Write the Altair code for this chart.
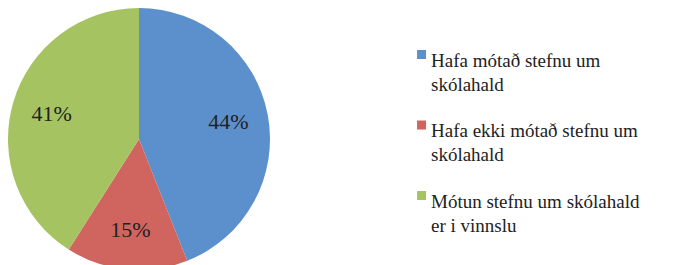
import altair as alt
import pandas as pd

categories = [
    "Hafa mótað stefnu um|skólahald",
    "Hafa ekki mótað stefnu um|skólahald",
    "Mótun stefnu um skólahald|er i vinnslu",
]
values = [44, 15, 41]
labels = ["44%", "15%", "41%"]
colors = ["#5B90CC", "#D0655F", "#A5C461"]

SERIF = "Liberation Serif, Times New Roman, serif"

df = pd.DataFrame({"cat": categories, "val": values, "lab": labels, "order": [0, 1, 2]})

base = alt.Chart(df).encode(
    theta=alt.Theta("val:Q", stack=True),
    order=alt.Order("order:Q"),
)

pie = base.mark_arc(outerRadius=131).encode(
    color=alt.Color(
        "cat:N",
        sort=categories,
        scale=alt.Scale(domain=categories, range=colors),
        legend=alt.Legend(
            title=None,
            orient="none",
            legendX=400,
            legendY=34,
            symbolType="M-0.1,-0.33H1.9V1.67H-0.1Z",
            symbolSize=81,
            symbolStrokeWidth=0,
            labelFont=SERIF,
            labelFontSize=19,
            labelColor="#222222",
            labelLimit=400,
            labelBaseline="top",
            labelOffset=4,
            rowPadding=17.5,
            padding=0,
            labelExpr="split(datum.label, '|')",
        ),
    )
)

text = base.mark_text(
    radius=91,
    font=SERIF,
    fontSize=22,
    color="#222222",
).encode(text="lab:N")

chart = (
    (pie + text)
    .properties(width=262, height=262, padding=0)
    .configure(
        background="white",
        font=SERIF,
        style={"guide-label": {"font": SERIF, "fontSize": 19, "lineHeight": 24}},
    )
    .configure_view(stroke=None)
)

chart.save("out.html", embed_options={"renderer": "svg", "actions": False})
